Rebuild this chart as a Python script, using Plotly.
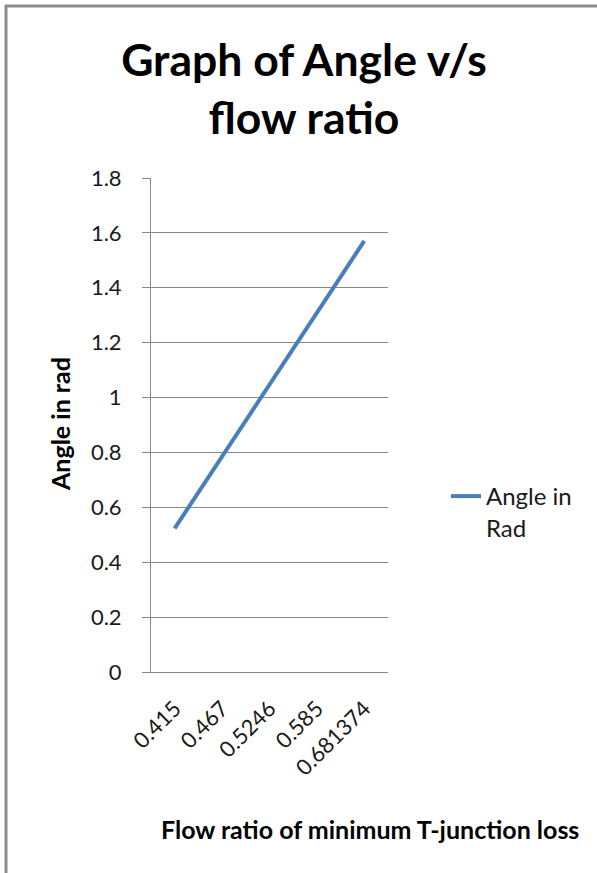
import plotly.graph_objects as go

# Flow ratio at minimum T-junction loss (category labels) and branch angle in radians
flow_ratio = ["0.415", "0.467", "0.5246", "0.585", "0.681374"]
angle_rad = [0.5236, 0.7854, 1.0472, 1.3090, 1.5708]

W, H = 597, 873
L, R, T, B = 151, 388, 178, 672  # plot area edges in pixels


def px_x(p):
    return (p - L) / (R - L)


def px_y(p):
    return (B - p) / (B - T)


GRID = "#878787"
FONT = "Lato, Calibri, 'Open Sans', sans-serif"

fig = go.Figure()
fig.add_trace(go.Scatter(
    x=flow_ratio, y=angle_rad, mode="lines",
    name="Angle in<br>Rad",
    line=dict(color="#4A7EBB", width=4),
))

fig.update_layout(
    width=W, height=H,
    margin=dict(l=L, r=W - R, t=T, b=H - B, pad=0),
    paper_bgcolor="white", plot_bgcolor="white",
    font=dict(family=FONT, size=22, color="#1a1a1a"),
    title=dict(
        text="<b>Graph of Angle v/s<br>flow ratio</b>",
        x=px_x(304), xref="paper", xanchor="center",
        y=1 - 76 / H, yref="container", yanchor="middle",
        font=dict(family=FONT, size=44.5, color="black"),
    ),
    xaxis=dict(
        type="category", range=[-0.5, 4.5],
        showgrid=False, showline=True, linecolor=GRID, linewidth=1,
        ticks="", tickangle=-45, tickfont=dict(size=22),
        ticklabelstandoff=14, zeroline=False,
    ),
    yaxis=dict(
        range=[0, 1.8], dtick=0.2, tickformat="~g",
        showgrid=True, gridcolor=GRID, gridwidth=1,
        showline=True, linecolor=GRID, linewidth=1,
        ticks="outside", ticklen=8, tickcolor=GRID,
        ticklabelstandoff=16, zeroline=False, tickfont=dict(size=22),
    ),
    showlegend=True,
    legend=dict(
        x=px_x(446), xanchor="left", y=px_y(474), yanchor="top",
        font=dict(size=24), valign="top", bgcolor="rgba(0,0,0,0)",
    ),
)

# Axis titles
fig.add_annotation(
    text="<b>Flow ratio of minimum T-junction loss</b>",
    x=px_x(370), y=px_y(829), xref="paper", yref="paper",
    xanchor="center", yanchor="middle",
    showarrow=False, font=dict(size=25, color="black"),
)
fig.add_annotation(
    text="<b>Angle in rad</b>", textangle=-90,
    x=px_x(60), y=px_y(424), xref="paper", yref="paper",
    xanchor="center", yanchor="middle",
    showarrow=False, font=dict(size=25, color="black"),
)

# Chart frame along the top and left edges
fig.add_shape(type="line", xref="paper", yref="paper",
              x0=px_x(5), x1=px_x(600), y0=px_y(6), y1=px_y(6),
              line=dict(color="#8c8c8c", width=3))
fig.add_shape(type="line", xref="paper", yref="paper",
              x0=px_x(6), x1=px_x(6), y0=px_y(5), y1=px_y(880),
              line=dict(color="#8c8c8c", width=3))

fig.write_html("out.html")
